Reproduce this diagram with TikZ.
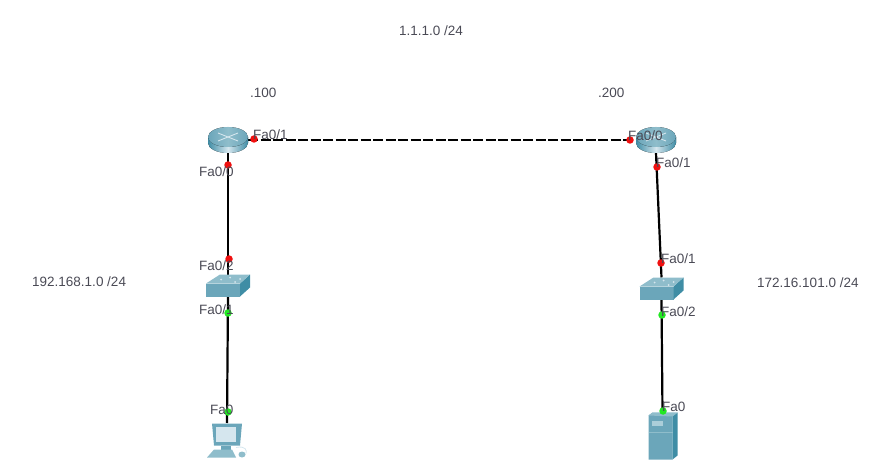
\documentclass[tikz,border=0pt]{standalone}
\usepackage{fontspec}
\setmainfont{Liberation Sans}
\definecolor{labelgray}{HTML}{4A4A55}
\definecolor{icondark}{HTML}{3F8DA5}
\definecolor{iconmid}{HTML}{6BA6BA}
\definecolor{iconlight}{HTML}{8FBDCB}
\definecolor{iconpale}{HTML}{D5E6EE}
\definecolor{portgreen}{HTML}{22E822}
\definecolor{portred}{HTML}{F01010}
\tikzset{
  netlabel/.style={text=labelgray, inner sep=0pt, font=\fontsize{13.5}{14}\selectfont},
  devbox/.style={inner sep=0pt, outer sep=0pt},
  cable/.style={line width=2.2pt, black},
  portdot/.style={circle, inner sep=0pt, minimum size=7.5pt},
  routericon/.pic={
    \fill[left color=icondark, right color=icondark, middle color=iconpale] (-20,-3) -- (-20,3) arc (180:360:20 and -10) -- (20,-3) -- cycle;
    \fill[left color=iconmid, right color=iconmid, middle color=iconlight] (0,-3) ellipse [x radius=20pt, y radius=10pt];
    \draw[iconpale, line width=.9pt] (-10,-7) -- (10,1) (10,-7) -- (-10,1);
  },
  switchicon/.pic={
    \fill[iconmid] (-22,-2) -- (-22,11) -- (12,11) -- (12,-2) -- cycle;
    \fill[icondark] (12,-2) -- (12,11) -- (22,2) -- (22,-11) -- cycle;
    \fill[iconlight] (-22,-2) -- (-8,-11) -- (22,-11) -- (12,-2) -- cycle;
    \fill[iconpale] (-7,-6) circle (1pt) (2,-8) circle (1pt) (7,-3.5) circle (1pt) (12,-6.5) circle (1pt);
  },
  pcicon/.pic={
    \fill[iconmid] (-15,-17) -- (15,-17) -- (13,5) -- (-13,5) -- cycle;
    \fill[iconpale] (-11,-14) rectangle (9,1);
    \fill[iconmid] (-6,5) rectangle (4,9);
    \fill[iconlight] (-13,9) -- (5,9) -- (9,17) -- (-20,17) -- cycle;
    \draw[iconpale, line width=.8pt] (9,7) .. controls (19,5) and (20,10) .. (19,13);
    \fill[iconlight] (15,14) ellipse [x radius=3.5pt, y radius=3pt];
  },
  servericon/.pic={
    \fill[iconmid] (-14,-21) -- (-10,-24) -- (15,-24) -- (10,-20) -- (10,23) -- (-14,23) -- cycle;
    \fill[icondark] (10,-20) -- (15,-24) -- (15,19) -- (10,23) -- cycle;
    \fill[iconlight] (-14,-21) -- (-10,-24) -- (15,-24) -- (10,-20) -- cycle;
    \fill[iconlight!60!iconpale] (-11,-16) rectangle (0,-11);
    \draw[iconlight, line width=.6pt] (-14,-4) -- (10,-4);
  },
}
\begin{document}
\begin{tikzpicture}[x=1pt, y=-1pt]
    \useasboundingbox (0,0) rectangle (884,476);
    % device boxes
    \node[devbox, minimum width=40pt, minimum height=26pt] (RouterA) at (228,140) {};
    \node[devbox, minimum width=40pt, minimum height=26pt] (RouterB) at (656,140) {};
    \node[devbox, minimum width=44pt, minimum height=22pt] (SwitchA) at (228,285.5) {};
    \node[devbox, minimum width=44pt, minimum height=22pt] (SwitchB) at (661.5,288.5) {};
    \node[devbox, minimum width=40pt, minimum height=35pt] (PcA) at (227,440.5) {};
    \node[devbox, minimum width=29pt, minimum height=47pt] (ServerB) at (662.5,436.5) {};

    % cables
    \draw[cable] (RouterA.south) -- (SwitchA.north);
    \draw[cable] (SwitchA.south) -- (PcA.north);
    \draw[cable] (RouterB.south) -- (SwitchB.north);
    \draw[cable] (SwitchB.south) -- (ServerB.north);
    \draw[cable, dash pattern=on 10pt off 2.5pt] (RouterA.east) -- (RouterB.west);

    % icons
    \pic at (RouterA) {routericon};
    \pic at (RouterB) {routericon};
    \pic at (SwitchA) {switchicon};
    \pic at (SwitchB) {switchicon};
    \pic at (PcA) {pcicon};
    \pic at (ServerB) {servericon};

    % link lights
    \node[portdot, fill=portred] (dotA) at (254,139) {};
    \node[portdot, fill=portred] (dotB) at (228,165) {};
    \node[portdot, fill=portred] (dotC) at (229,259) {};
    \node[portdot, fill=portgreen] (dotD) at (228,313) {};
    \node[portdot, fill=portgreen] (dotE) at (228,412) {};
    \node[portdot, fill=portred] (dotF) at (630,140) {};
    \node[portdot, fill=portred] (dotG) at (657,167) {};
    \node[portdot, fill=portred] (dotH) at (661,263) {};
    \node[portdot, fill=portgreen] (dotI) at (662,315) {};
    \node[portdot, fill=portgreen] (dotJ) at (663,411) {};

    % port names
    \node[netlabel, anchor=west] (portA) at (253,135) {Fa0/1};
    \node[netlabel, anchor=west] (portB) at (199,172) {Fa0/0};
    \node[netlabel, anchor=west] (portC) at (199,266) {Fa0/2};
    \node[netlabel, anchor=west] (portD) at (199,310) {Fa0/1};
    \node[netlabel, anchor=west] (portE) at (210,410) {Fa0};
    \node[netlabel, anchor=west] (portF) at (628,136) {Fa0/0};
    \node[netlabel, anchor=west] (portG) at (656,163) {Fa0/1};
    \node[netlabel, anchor=west] (portH) at (661,259) {Fa0/1};
    \node[netlabel, anchor=west] (portI) at (661,312) {Fa0/2};
    \node[netlabel, anchor=west] (portJ) at (662,407) {Fa0};

    % subnets and hosts
    \node[netlabel, anchor=west] (netTop) at (399,31) {1.1.1.0 /24};
    \node[netlabel, anchor=west] (hostA) at (250,93) {.100};
    \node[netlabel, anchor=west] (hostB) at (598,93) {.200};
    \node[netlabel, anchor=west] (netA) at (32,282) {192.168.1.0 /24};
    \node[netlabel, anchor=west] (netB) at (757,283) {172.16.101.0 /24};
\end{tikzpicture}
\end{document}
